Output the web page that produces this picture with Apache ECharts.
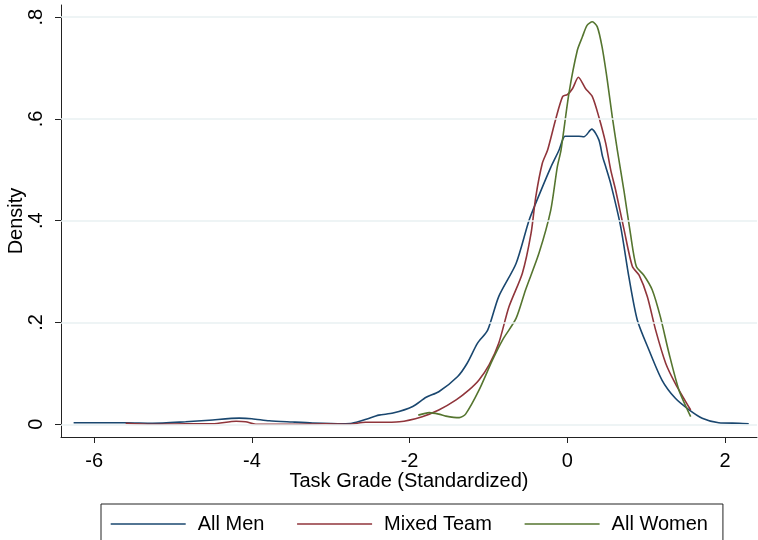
<!DOCTYPE html>
<html>
<head>
<meta charset="utf-8">
<script src="https://cdn.jsdelivr.net/npm/echarts@6/dist/echarts.min.js"></script>
<style>
html, body { margin: 0; padding: 0; background: #fff; }
#chart { width: 758px; height: 540px; }
</style>
</head>
<body>
<div id="chart"></div>
<script>
// kernel density curves, [grade, density]
var allMen = [
    [-6.26, 0.003], [-5.60, 0.003], [-5.26, 0.002], [-4.84, 0.005], [-4.54, 0.008],
    [-4.16, 0.012], [-4.00, 0.011], [-3.78, 0.007], [-3.49, 0.0045], [-3.23, 0.0025],
    [-2.85, 0.001], [-2.73, 0.002], [-2.55, 0.010], [-2.39, 0.018], [-2.21, 0.022],
    [-1.96, 0.035], [-1.79, 0.053], [-1.63, 0.064], [-1.39, 0.094], [-1.27, 0.120],
    [-1.14, 0.159], [-1.01, 0.185], [-0.87, 0.251], [-0.65, 0.316], [-0.485, 0.401],
    [-0.37, 0.446], [-0.21, 0.505], [-0.105, 0.539], [-0.06, 0.559], [-0.03, 0.566],
    [0.05, 0.566], [0.148, 0.566], [0.21, 0.565], [0.31, 0.580], [0.40, 0.559],
    [0.447, 0.526], [0.487, 0.506], [0.55, 0.473], [0.677, 0.388], [0.78, 0.290],
    [0.887, 0.205], [1.035, 0.146], [1.20, 0.087], [1.37, 0.051], [1.54, 0.029],
    [1.71, 0.012], [1.92, 0.003], [2.18, 0.002], [2.30, 0.001]
];
var mixedTeam = [
    [-5.60, 0.002], [-5.26, 0.000], [-4.84, 0.001], [-4.50, 0.001], [-4.20, 0.006],
    [-4.08, 0.005], [-3.95, 0.000], [-3.49, 0.000], [-3.06, 0.001], [-2.77, 0.000],
    [-2.56, 0.004], [-2.39, 0.004], [-2.13, 0.005], [-1.84, 0.015], [-1.63, 0.028],
    [-1.41, 0.048], [-1.25, 0.067], [-1.12, 0.087], [-0.99, 0.117], [-0.87, 0.159],
    [-0.74, 0.231], [-0.57, 0.297], [-0.46, 0.375], [-0.40, 0.447], [-0.317, 0.513],
    [-0.25, 0.539], [-0.15, 0.598], [-0.06, 0.644], [0.00, 0.648], [0.067, 0.660],
    [0.14, 0.682], [0.23, 0.660], [0.317, 0.644], [0.40, 0.604], [0.487, 0.552],
    [0.55, 0.500], [0.613, 0.460], [0.72, 0.382], [0.825, 0.310], [0.91, 0.293],
    [1.014, 0.251], [1.12, 0.185], [1.247, 0.120], [1.37, 0.080], [1.564, 0.028]
];
var allWomen = [
    [-1.89, 0.018], [-1.75, 0.023], [-1.63, 0.020], [-1.54, 0.016], [-1.37, 0.013],
    [-1.29, 0.020], [-1.12, 0.067], [-0.95, 0.126], [-0.82, 0.166], [-0.65, 0.208],
    [-0.53, 0.264], [-0.36, 0.336], [-0.21, 0.421], [-0.127, 0.506], [-0.08, 0.539],
    [0.02, 0.650], [0.127, 0.735], [0.19, 0.761], [0.25, 0.784], [0.317, 0.791],
    [0.38, 0.781], [0.44, 0.742], [0.507, 0.676], [0.57, 0.604], [0.634, 0.539],
    [0.72, 0.457], [0.80, 0.375], [0.875, 0.310], [0.97, 0.293], [1.077, 0.264],
    [1.18, 0.211], [1.29, 0.139], [1.416, 0.067], [1.564, 0.015]
];

var seriesNames = ['All Men', 'Mixed Team', 'All Women'];
var xTicks = [-6, -4, -2, 0, 2];
var yTicks = [0, 0.2, 0.4, 0.6, 0.8];

var colors = ['#1a476f', '#90353b', '#55752f'];
var font = 'Liberation Sans, Arial, sans-serif';

var chart = echarts.init(document.getElementById('chart'));

function curve(name, data, color) {
    return {
        name: name,
        type: 'line',
        data: data,
        symbol: 'none',
        smooth: 0.25,
        lineStyle: { color: color, width: 1.6 },
        itemStyle: { color: color },
        z: 3
    };
}

var option = {
    backgroundColor: '#fff',
    animation: false,
    textStyle: { fontFamily: font },
    grid: { left: 61, right: 1, top: 5, bottom: 103, outerBoundsMode: 'none', containLabel: false },
    xAxis: {
        type: 'value',
        min: -6.42,
        max: 2.405,
        name: 'Task Grade (Standardized)',
        nameLocation: 'middle',
        nameGap: 34,
        nameMoveOverlap: false,
        nameTextStyle: { fontSize: 20, color: '#000', fontFamily: font },
        axisLine: { onZero: false, lineStyle: { color: '#222', width: 1 } },
        axisTick: { length: 6, customValues: xTicks, lineStyle: { color: '#222' } },
        axisLabel: { customValues: xTicks, fontSize: 20, color: '#000', margin: 14, fontFamily: font },
        splitLine: { show: false }
    },
    yAxis: {
        type: 'value',
        min: -0.025,
        max: 0.824,
        name: 'Density',
        nameLocation: 'middle',
        nameGap: 35,
        nameMoveOverlap: false,
        nameTextStyle: { fontSize: 20, color: '#000', fontFamily: font },
        axisLine: { show: true, onZero: false, lineStyle: { color: '#222', width: 1 } },
        axisTick: { show: true, length: 6, customValues: yTicks, lineStyle: { color: '#222' } },
        axisLabel: {
            customValues: yTicks,
            rotate: 90,
            fontSize: 20,
            color: '#000',
            margin: 15,
            fontFamily: font,
            formatter: function (v) {
                return v === 0 ? '0' : String(+v.toFixed(1)).replace('0.', '.');
            }
        },
        splitLine: { show: false }
    },
    legend: {
        data: seriesNames,
        left: 101,
        top: 504,
        itemWidth: 75,
        itemHeight: 14,
        itemGap: 32,
        padding: [9, 15, 20, 9],
        borderColor: '#222',
        borderWidth: 1,
        itemStyle: { opacity: 0 },
        lineStyle: { width: 1.4 },
        textStyle: { fontSize: 20, color: '#000', lineHeight: 22, padding: [0, 0, 0, 7], fontFamily: font }
    },
    series: [
        {
            type: 'line',
            data: [],
            silent: true,
            markLine: {
                silent: true,
                symbol: 'none',
                label: { show: false },
                lineStyle: { color: '#e9f0f2', width: 1.5, type: 'solid' },
                data: yTicks.map(function (v) { return { yAxis: v }; })
            },
            z: 1
        },
        curve(seriesNames[0], allMen, colors[0]),
        curve(seriesNames[1], mixedTeam, colors[1]),
        curve(seriesNames[2], allWomen, colors[2])
    ]
};

chart.setOption(option);
</script>
</body>
</html>
